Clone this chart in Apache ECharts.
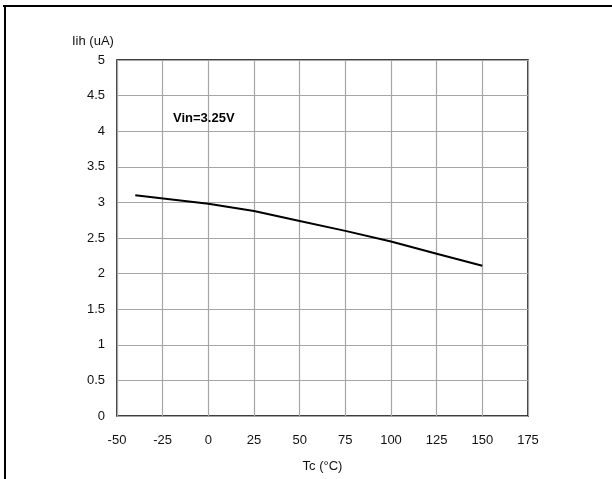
<!DOCTYPE html>
<html>
<head>
<meta charset="utf-8">
<script src="https://cdn.jsdelivr.net/npm/echarts@6/dist/echarts.min.js"></script>
<style>
  html, body { margin: 0; padding: 0; background: #fff; }
  #chart { width: 612px; height: 479px; }
</style>
</head>
<body>
<div id="chart"></div>
<script>
// Input high current versus case temperature
const tempC = [-40, 0, 25, 50, 75, 100, 125, 150];
const iihUA = [3.1, 2.98, 2.88, 2.74, 2.6, 2.45, 2.28, 2.11];
const xTicks = [-50, 175, 25];   // min, max, step
const yTicks = [0, 5, 0.5];      // min, max, step
const conditionLabel = 'Vin=3.25V';
const yAxisTitle = 'Iih (uA)';
const xAxisTitle = 'Tc (°C)';

const chart = echarts.init(document.getElementById('chart'), null, { renderer: 'canvas' });
const font = 'Arial, "Liberation Sans", sans-serif';

chart.setOption({
  animation: false,
  backgroundColor: '#fff',
  grid: {
    left: 117, top: 60, width: 411, height: 356,
    outerBoundsMode: 'none', containLabel: false,
    show: true, borderColor: '#000', borderWidth: 1.5, backgroundColor: 'transparent'
  },
  xAxis: {
    type: 'value',
    min: xTicks[0], max: xTicks[1], interval: xTicks[2],
    name: xAxisTitle, nameLocation: 'middle', nameGap: 44,
    nameTextStyle: { fontFamily: font, fontSize: 13, color: '#111' },
    axisLine: { show: false },
    axisTick: { show: false },
    axisLabel: { margin: 18, fontFamily: font, fontSize: 13, color: '#111' },
    splitLine: { show: true, lineStyle: { color: '#a6a6a6', width: 1.2 } }
  },
  yAxis: {
    type: 'value',
    min: yTicks[0], max: yTicks[1], interval: yTicks[2],
    axisLine: { show: false },
    axisTick: { show: false },
    axisLabel: { margin: 12, fontFamily: font, fontSize: 13, color: '#111' },
    splitLine: { show: true, lineStyle: { color: '#a6a6a6', width: 1.2 } }
  },
  series: [{
    type: 'line',
    data: tempC.map((t, i) => [t, iihUA[i]]),
    showSymbol: false,
    lineStyle: { color: '#000', width: 2 },
    z: 5
  }],
  graphic: [
    { type: 'line', shape: { x1: 3, y1: 6, x2: 612, y2: 6 }, style: { stroke: '#000', lineWidth: 2 } },
    { type: 'line', shape: { x1: 5, y1: 5, x2: 5, y2: 479 }, style: { stroke: '#000', lineWidth: 2 } },
    { type: 'text', left: 72, top: 35,
      style: { text: yAxisTitle, font: '13px ' + font, fill: '#111' } },
    { type: 'text', left: 173, top: 112,
      style: { text: conditionLabel, font: 'bold 13px ' + font, fill: '#000' }, z: 10 }
  ]
});
</script>
</body>
</html>
